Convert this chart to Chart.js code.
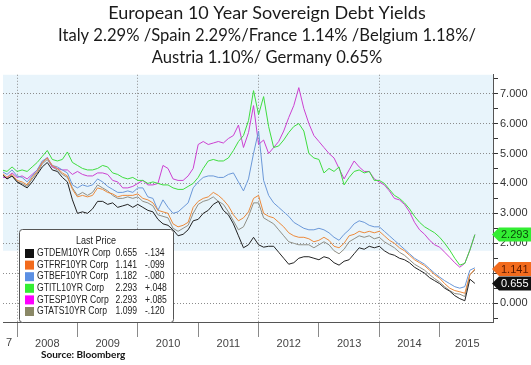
<!DOCTYPE html>
<html>
<head>
<meta charset="utf-8">
<script src="https://cdn.jsdelivr.net/npm/chart.js@4/dist/chart.umd.min.js"></script>
<style>
  html, body { margin: 0; padding: 0; background: #fff; }
  #wrap { width: 531px; height: 365px; }
</style>
</head>
<body>
<div id="wrap"><canvas id="yields" width="531" height="365"></canvas></div>
<script>
// x = months counted from Jan 2008, first point is Oct 2007
const firstMonth = -3;

const yearLabels = ['2007', '2008', '2009', '2010', '2011', '2012', '2013', '2014', '2015'];
const yearLabelMonths = [-3.4, 6, 18, 30, 42, 54, 66, 78, 89.5];
const yearStartMonths = [0, 12, 24, 36, 48, 60, 72, 84];
const gridMonths = [0, 24, 48, 72];
const yTicks = [-0.5, 0, 0.5, 1, 1.5, 2, 2.5, 3, 3.5, 4, 4.5, 5, 5.5, 6, 6.5, 7, 7.5];

const germany = [4.3, 4.15, 4.25,
  4.05, 3.95, 3.85, 4.05, 4.3, 4.55, 4.7, 4.45, 4.4, 4.2, 4.05, 3.45,
  3.0, 3.05, 3.0, 3.15, 3.4, 3.4, 3.3, 3.35, 3.2, 3.25, 3.3, 3.2,
  3.3, 3.2, 3.1, 3.05, 2.8, 2.65, 2.6, 2.45, 2.25, 2.3, 2.45, 2.75,
  2.8, 3.0, 3.1, 3.3, 3.4, 3.1, 2.95, 2.65, 2.25, 1.85, 1.95, 2.2,
  1.95, 1.87, 1.9, 1.9, 1.7, 1.5, 1.3, 1.35, 1.5, 1.55, 1.55, 1.5,
  1.45, 1.55, 1.5, 1.35, 1.27, 1.4, 1.45, 1.65, 1.85, 1.8, 1.9, 1.85,
  1.9, 1.75, 1.65, 1.6, 1.5, 1.45, 1.35, 1.2, 1.1, 1.0, 0.85, 0.75,
  0.65, 0.5, 0.4, 0.25, 0.15, 0.08, 0.8, 0.66];

const france = [4.35, 4.2, 4.3,
  4.1, 4.05, 3.95, 4.2, 4.4, 4.7, 4.85, 4.6, 4.5, 4.35, 4.25, 3.8,
  3.55, 3.6, 3.55, 3.6, 3.85, 3.8, 3.7, 3.65, 3.55, 3.6, 3.6, 3.6,
  3.65, 3.5, 3.45, 3.35, 3.1, 3.05, 3.0, 2.65, 2.55, 2.6, 2.7, 3.2,
  3.4, 3.5, 3.55, 3.7, 3.6, 3.45, 3.25, 2.95, 2.75, 2.85, 3.05, 3.5,
  3.6, 3.0, 2.9, 2.85, 2.7, 2.55, 2.35, 2.25, 2.2, 2.2, 2.15, 2.05,
  2.1, 2.2, 2.1, 1.9, 1.85, 2.0, 2.25, 2.3, 2.4, 2.35, 2.4, 2.35,
  2.4, 2.25, 2.1, 2.0, 1.85, 1.75, 1.6, 1.45, 1.35, 1.25, 1.1, 0.95,
  0.83, 0.65, 0.5, 0.42, 0.38, 0.33, 0.95, 1.14];

const belgium = [4.4, 4.3, 4.45,
  4.25, 4.2, 4.05, 4.25, 4.45, 4.75, 4.85, 4.6, 4.55, 4.45, 4.35, 3.95,
  3.85, 3.95, 3.9, 3.95, 4.15, 4.05, 3.9, 3.8, 3.7, 3.7, 3.75, 3.7,
  3.85, 3.85, 3.55, 3.5, 3.1, 3.45, 3.2, 3.0, 3.05, 3.2, 3.35, 3.85,
  4.05, 4.2, 4.25, 4.25, 4.2, 4.2, 4.3, 4.35, 4.05, 3.75, 4.15, 5.0,
  5.75, 4.1, 3.6, 3.35, 3.2, 3.05, 2.9, 2.7, 2.6, 2.5, 2.45, 2.45,
  2.5, 2.45, 2.35, 2.2, 2.1, 2.3, 2.45, 2.65, 2.75, 2.7, 2.6, 2.55,
  2.55, 2.4, 2.25, 2.1, 1.95, 1.8, 1.65, 1.5, 1.4, 1.3, 1.15, 1.0,
  0.87, 0.75, 0.65, 0.55, 0.5, 0.55, 1.1, 1.18];

const italy = [4.45, 4.4, 4.55,
  4.4, 4.45, 4.4, 4.55, 4.7, 4.9, 5.1, 4.8, 4.75, 4.8, 5.05, 4.7,
  4.6, 4.5, 4.45, 4.45, 4.5, 4.6, 4.55, 4.35, 4.3, 4.2, 4.15, 4.2,
  4.1, 4.1, 4.0, 4.05, 4.0, 3.95, 3.95, 3.85, 3.8, 3.8, 3.9, 4.0,
  4.2, 4.5, 4.75, 4.8, 4.75, 4.75, 4.85, 5.1, 5.4, 5.6, 6.1, 7.1,
  6.3, 6.9, 5.9, 5.2, 5.25, 5.45, 5.7, 5.9, 6.0, 5.75, 5.0, 4.85,
  4.8, 4.35, 4.5, 4.4, 4.55, 3.95, 4.2, 4.4, 4.45, 4.35, 4.4, 4.1,
  4.1, 4.0, 3.8, 3.6, 3.5, 3.35, 3.15, 2.9, 2.7, 2.55, 2.45, 2.35,
  2.2, 2.0, 1.77, 1.5, 1.27, 1.33, 1.77, 2.29];

const spain = [4.2, 4.2, 4.35,
  4.2, 4.25, 4.15, 4.3, 4.45, 4.7, 4.87, 4.55, 4.5, 4.45, 4.45, 4.3,
  4.4, 4.3, 4.25, 4.25, 4.35, 4.35, 4.3, 4.1, 4.05, 3.85, 3.85, 3.9,
  4.0, 4.1, 3.95, 3.95, 4.0, 4.6, 4.5, 4.15, 4.1, 4.1, 4.25, 4.5,
  5.3, 5.4, 5.3, 5.35, 5.4, 5.35, 5.5, 5.6, 5.95, 5.2, 5.7, 6.6,
  5.3, 5.45, 5.0, 5.2, 5.4, 5.75, 6.2, 6.6, 7.2, 6.5, 6.0, 5.6,
  5.4, 5.2, 5.0, 4.85, 4.5, 4.15, 4.45, 4.75, 4.55, 4.4, 4.4, 4.15,
  4.05, 3.95, 3.75, 3.5, 3.45, 3.3, 3.05, 2.7, 2.45, 2.3, 2.1, 1.95,
  1.87, 1.7, 1.53, 1.35, 1.2, 1.33, 1.77, 2.29];

const austria = [4.3, 4.15, 4.25,
  4.05, 4.0, 3.9, 4.15, 4.35, 4.65, 4.8, 4.55, 4.45, 4.3, 4.2, 3.85,
  3.6, 3.7, 3.6, 3.7, 3.95, 3.85, 3.75, 3.6, 3.5, 3.5, 3.55, 3.5,
  3.55, 3.4, 3.35, 3.25, 2.95, 2.9, 2.85, 2.5, 2.4, 2.5, 2.6, 3.0,
  3.3, 3.4, 3.45, 3.55, 3.4, 3.3, 3.05, 2.75, 2.45, 2.55, 2.9, 3.35,
  3.35, 2.85, 2.75, 2.65, 2.45, 2.25, 2.05, 2.0, 1.95, 1.95, 1.95, 1.85,
  1.95, 2.05, 1.95, 1.75, 1.65, 1.8, 2.05, 2.15, 2.25, 2.2, 2.25, 2.15,
  2.2, 2.05, 1.95, 1.85, 1.7, 1.6, 1.45, 1.3, 1.2, 1.1, 0.95, 0.82,
  0.7, 0.55, 0.42, 0.32, 0.3, 0.22, 0.95, 1.1];

const seriesCodes = ['GTDEM10YR Corp', 'GTFRF10YR Corp', 'GTBEF10YR Corp', 'GTITL10YR Corp', 'GTESP10YR Corp', 'GTATS10YR Corp'];
const lastPrices = ['0.655', '1.141', '1.182', '2.293', '2.293', '1.099'];
const priceChanges = ['-.134', '-.099', '-.080', '+.048', '+.085', '-.120'];
const lineColors = ['#222222', '#ec8a3c', '#6b98d8', '#3fdc3f', '#cc40d0', '#8f8f86'];
const swatchColors = ['#111111', '#f26b1d', '#5b8fe3', '#33ee33', '#ff00ff', '#8a8866'];

const tagValues = [2.293, 1.141, 0.655];
const tagColors = ['#33ee33', '#f26b1d', '#111111'];
const tagTextColors = ['#0a4a0a', '#5a1a00', '#ffffff'];

const toPoints = arr => arr.map((v, i) => ({ x: firstMonth + i, y: v }));
const allSeries = [germany, france, belgium, italy, spain, austria];

const chartFont = 'Liberation Sans';

// legend text in the Bloomberg box is narrow, squeeze it a bit
function narrowText(ctx, text, x, y, align) {
  ctx.save();
  ctx.translate(x, y);
  ctx.scale(0.86, 1);
  ctx.textAlign = align;
  ctx.fillText(text, 0, 0);
  ctx.restore();
}

const backdrop = {
  id: 'backdrop',
  beforeDraw(chart) {
    const { ctx, chartArea: a, scales: { y } } = chart;
    ctx.save();
    ctx.fillStyle = '#ffffff';
    ctx.fillRect(0, 0, chart.width, chart.height);
    const split = y.getPixelForValue(1.75);
    ctx.fillStyle = '#e8f4fb';
    ctx.fillRect(a.left, a.top, a.right - a.left, split - a.top);
    ctx.restore();
  }
};

const extras = {
  id: 'extras',
  afterDraw(chart) {
    const { ctx, scales: { x, y } } = chart;
    ctx.save();

    // 2007 label, cut off by the left edge of the panel
    ctx.save();
    ctx.beginPath();
    ctx.rect(x.left + 3, x.top, 40, x.height);
    ctx.clip();
    ctx.font = '11px ' + chartFont;
    ctx.fillStyle = '#444';
    ctx.textAlign = 'center';
    ctx.textBaseline = 'middle';
    ctx.fillText(yearLabels[0], x.getPixelForValue(yearLabelMonths[0]), 343);
    ctx.restore();

    // last price box
    const bx = 19.5, by = 229.5, bw = 154, bh = 93;
    ctx.beginPath();
    ctx.roundRect(bx, by, bw, bh, 3);
    ctx.fillStyle = '#ffffff';
    ctx.fill();
    ctx.strokeStyle = '#555';
    ctx.lineWidth = 1;
    ctx.stroke();

    ctx.textBaseline = 'middle';
    ctx.fillStyle = '#222';
    ctx.font = '10.5px ' + chartFont;
    narrowText(ctx, 'Last Price', 96, 241, 'center');
    ctx.font = '10px ' + chartFont;
    seriesCodes.forEach((code, i) => {
      const ry = 253.5 + i * 11.6;
      ctx.fillStyle = swatchColors[i];
      ctx.fillRect(25, ry - 4.5, 9, 9);
      ctx.fillStyle = '#222';
      narrowText(ctx, code, 37, ry, 'left');
      narrowText(ctx, lastPrices[i], 137, ry, 'right');
      narrowText(ctx, priceChanges[i], 145, ry, 'left');
    });

    // value tags on the right axis
    ctx.font = '11px ' + chartFont;
    tagValues.forEach((v, i) => {
      const ty = y.getPixelForValue(v);
      ctx.beginPath();
      ctx.moveTo(x.right - 1, ty);
      ctx.lineTo(x.right + 6, ty - 7);
      ctx.lineTo(chart.width, ty - 7);
      ctx.lineTo(chart.width, ty + 7);
      ctx.lineTo(x.right + 6, ty + 7);
      ctx.closePath();
      ctx.fillStyle = tagColors[i];
      ctx.fill();
      ctx.fillStyle = tagTextColors[i];
      ctx.textAlign = 'left';
      ctx.fillText(v.toFixed(3), x.right + 8, ty + 0.5);
    });

    // source note
    ctx.font = 'bold 10px Lato';
    ctx.fillStyle = '#111';
    ctx.textAlign = 'left';
    ctx.fillText('Source: Bloomberg', 41, 355);
    ctx.restore();
  }
};

new Chart(document.getElementById('yields'), {
  type: 'line',
  data: {
    datasets: allSeries.map((s, i) => ({
      label: seriesCodes[i],
      data: toPoints(s),
      borderColor: lineColors[i],
      borderWidth: 1,
      pointRadius: 0,
      tension: 0,
      fill: false
    }))
  },
  options: {
    responsive: false,
    animation: false,
    layout: { padding: { left: 3, right: 0, top: 0, bottom: 0 } },
    scales: {
      x: {
        type: 'linear',
        min: -2.8,
        max: 94.6,
        afterBuildTicks: s => {
          s.ticks = yearStartMonths.concat(yearLabelMonths.slice(1)).map(v => ({ value: v }));
        },
        afterFit: s => { s.height = 43; },
        ticks: {
          autoSkip: false,
          maxRotation: 0,
          padding: 0,
          color: '#444',
          font: { family: chartFont, size: 11 },
          callback: v => {
            const k = yearLabelMonths.indexOf(v);
            return k > 0 ? yearLabels[k] : '';
          }
        },
        grid: {
          color: c => (c.tick && gridMonths.includes(c.tick.value)) ? '#8c8c8c' : 'rgba(0,0,0,0)',
          tickColor: c => (c.tick && yearStartMonths.includes(c.tick.value)) ? '#8a8a8a' : 'rgba(0,0,0,0)',
          tickLength: 15
        },
        border: { color: '#555', dash: [1, 2] }
      },
      y: {
        position: 'right',
        min: -0.63,
        max: 7.63,
        afterBuildTicks: s => { s.ticks = yTicks.map(v => ({ value: v })); },
        afterFit: s => { s.width = 38; },
        ticks: {
          autoSkip: false,
          padding: 2,
          color: '#333',
          font: { family: chartFont, size: 11 },
          callback: v => Number.isInteger(v) ? v.toFixed(3) : ''
        },
        grid: {
          color: c => (c.tick && Number.isInteger(c.tick.value)) ? '#8c8c8c' : 'rgba(0,0,0,0)',
          tickColor: '#333',
          tickLength: 5
        },
        border: { color: '#555', dash: [1, 2] }
      }
    },
    plugins: {
      legend: { display: false },
      tooltip: { enabled: false },
      title: {
        display: true,
        text: 'European 10 Year Sovereign Debt Yields',
        color: '#1a1a1a',
        font: { family: 'Lato', size: 18, weight: 'normal', lineHeight: 1.2 },
        padding: { top: 2, bottom: 1 }
      },
      subtitle: {
        display: true,
        text: ['Italy 2.29% /Spain 2.29%/France 1.14% /Belgium 1.18%/', 'Austria 1.10%/ Germany 0.65%'],
        color: '#1a1a1a',
        font: { family: 'Lato', size: 16.6, weight: 'normal', lineHeight: 1.33 },
        padding: { top: 0, bottom: 6 }
      }
    }
  },
  plugins: [backdrop, extras]
});
</script>
</body>
</html>
